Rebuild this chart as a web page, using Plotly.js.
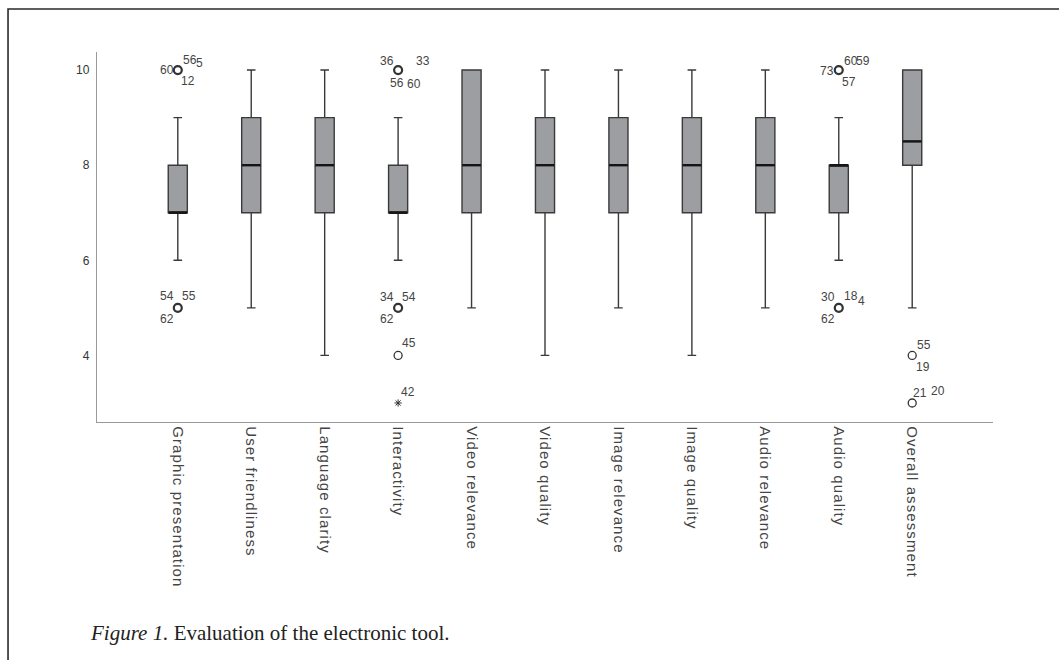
<!DOCTYPE html>
<html><head><meta charset="utf-8">
<script src="https://cdn.plot.ly/plotly-3.0.1.min.js"></script>
<style>html,body{margin:0;padding:0;background:#fff;} #chart{width:1059px;height:660px;}
#chart .xtick text{letter-spacing:1.1px;}</style>
</head><body><div id="chart"></div>
<script>
// ---- data ----
const categories = ["Graphic presentation","User friendliness","Language clarity","Interactivity","Video relevance","Video quality","Image relevance","Image quality","Audio relevance","Audio quality","Overall assessment"];
const q1Values      = [7, 7, 7, 7, 7, 7, 7, 7, 7, 7, 8];
const medianValues  = [7, 8, 8, 7, 8, 8, 8, 8, 8, 8, 8.5];
const q3Values      = [8, 9, 9, 8, 10, 9, 9, 9, 9, 8, 10];
const lowerWhiskers = [6, 5, 4, 6, 5, 4, 5, 4, 5, 6, 5];
const upperWhiskers = [9, 10, 10, 9, 10, 10, 10, 10, 10, 9, 10];

const outlierCategories = ["Graphic presentation","Graphic presentation","Interactivity","Interactivity","Interactivity","Audio quality","Audio quality","Overall assessment","Overall assessment"];
const outlierValues = [10, 5, 10, 5, 4, 10, 5, 4, 3];
const outlierCases = [["60","56","5","12"],["54","55","62"],["36","33","56","60"],["34","54","62"],["45"],["73","60","59","57"],["30","18","4","62"],["55","19"],["21","20"]];

const extremeCategories = ["Interactivity"];
const extremeValues = [3];
const extremeCases = [["42"]];

const yTickValues = [4, 6, 8, 10];

// ---- styling: label offsets (px, right / down) per case label ----
const outlierLabelOffsets = [
  [[-11,0],[12,-10],[22,-7],[10,11]],
  [[-11,-12],[11,-12],[-11,11]],
  [[-11,-9],[25,-9],[-1,13],[16,14]],
  [[-11,-11],[11,-11],[-11,11]],
  [[11,-12]],
  [[-12,1],[12,-9],[24,-9],[10,12]],
  [[-11,-11],[12,-12],[23,-7],[-11,11]],
  [[12,-10],[11,12]],
  [[8,-10],[26,-12]]
];
const extremeLabelOffsets = [[[10,-11]]];

const boxTrace = {
  type: 'box', x: categories,
  q1: q1Values, median: medianValues, q3: q3Values,
  lowerfence: lowerWhiskers, upperfence: upperWhiskers,
  boxpoints: false, width: 0.26, whiskerwidth: 0.45,
  fillcolor: '#9d9ea2', line: {color: '#3a3a3a', width: 1.4},
  hoverinfo: 'skip', showlegend: false
};
const medianTrace = {
  type: 'scatter', mode: 'markers', x: categories, y: medianValues,
  marker: {symbol: 'line-ew', size: 13.4, line: {color: '#151515', width: 2.4}},
  hoverinfo: 'skip', showlegend: false
};
const outlierTrace = {
  type: 'scatter', mode: 'markers', x: outlierCategories, y: outlierValues,
  marker: {symbol: 'circle-open', size: 8, color: '#333',
    line: {color: '#333', width: outlierCases.map(c => c.length >= 3 ? 2.2 : 1.3)}},
  hoverinfo: 'skip', showlegend: false
};
const extremeTrace = {
  type: 'scatter', mode: 'markers', x: extremeCategories, y: extremeValues,
  marker: {symbol: 'asterisk-open', size: 6, color: '#333', line: {color: '#333', width: 1}},
  hoverinfo: 'skip', showlegend: false
};

const annotations = [];
function addLabels(cats, vals, cases, offsets) {
  cats.forEach((c, i) => {
    cases[i].forEach((lab, j) => {
      const off = offsets[i][j];
      annotations.push({x: c, y: vals[i], xref: 'x', yref: 'y', text: lab, showarrow: false,
        xshift: off[0], yshift: -off[1], xanchor: 'center', yanchor: 'middle',
        font: {family: 'Liberation Sans, Arial, sans-serif', size: 12, color: '#444'}});
    });
  });
}
addLabels(outlierCategories, outlierValues, outlierCases, outlierLabelOffsets);
addLabels(extremeCategories, extremeValues, extremeCases, extremeLabelOffsets);

annotations.push({
  xref: 'paper', yref: 'paper', x: -0.0095, y: -0.570, xanchor: 'left', yanchor: 'middle',
  showarrow: false, text: '<i>Figure 1.</i> Evaluation of the electronic tool.',
  font: {family: 'Liberation Serif, Times New Roman, serif', size: 21, color: '#222'}
});

const layout = {
  width: 1059, height: 660,
  margin: {l: 97, r: 66, t: 52, b: 238},
  paper_bgcolor: '#fff', plot_bgcolor: '#fff',
  showlegend: false,
  xaxis: {type: 'category', range: [-1.1, 11.1], showgrid: false, zeroline: false,
    showline: true, linecolor: '#9a9a9a', linewidth: 1.2, ticks: '', tickangle: 90,
    tickfont: {family: 'Liberation Sans, Arial, sans-serif', size: 15, color: '#444'}},
  yaxis: {range: [2.6, 10.38], tickvals: yTickValues, showgrid: false, zeroline: false,
    showline: true, linecolor: '#9a9a9a', linewidth: 1.2, ticks: '', ticklabelstandoff: 4,
    tickfont: {family: 'Liberation Sans, Arial, sans-serif', size: 12, color: '#333'}},
  annotations: annotations,
  shapes: [{type: 'rect', xref: 'paper', yref: 'paper', x0: -0.0993, x1: 1.2, y0: -1, y1: 1.1162,
    line: {color: '#2a2a2a', width: 1.6}, fillcolor: 'rgba(0,0,0,0)'}]
};

Plotly.newPlot('chart', [boxTrace, medianTrace, outlierTrace, extremeTrace], layout, {displayModeBar: false, staticPlot: true});
</script>
</body></html>
